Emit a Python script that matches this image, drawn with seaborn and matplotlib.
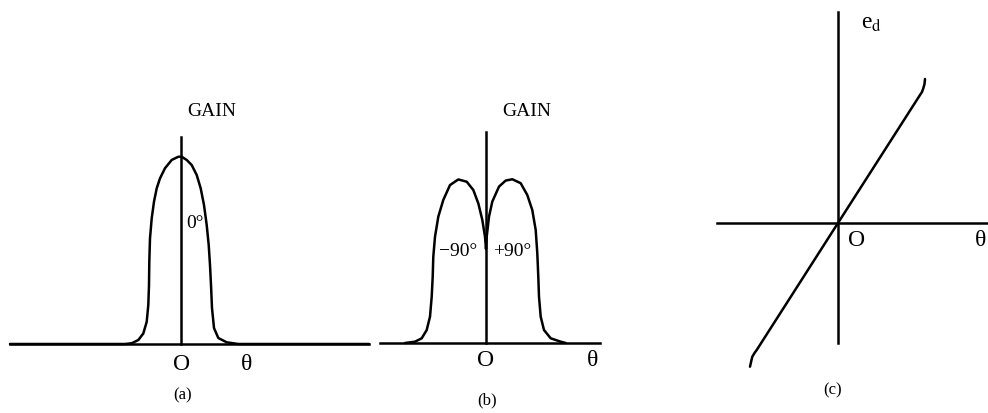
import matplotlib
matplotlib.use("Agg")
import matplotlib.pyplot as plt
import seaborn as sns

# (a) single-lobe gain pattern: theta offset vs normalised gain
theta_a = [-171, -56, -49.3, -42.7, -37.7, -34.3, -32.7, -32, -31.7, -31, -29.3,
           -27, -24.3, -21, -16, -9.3, -2.7, 0.7, 5.7, 10.7, 15.7, 19.7, 23,
           25.7, 27.7, 29, 30, 31, 33, 37.3, 45.7, 57.3, 188]
gain_a = [0.0, 0.0, 0.004, 0.021, 0.056, 0.118, 0.207, 0.314, 0.438, 0.562, 0.668,
          0.757, 0.828, 0.881, 0.935, 0.979, 0.996, 0.996, 0.979, 0.952, 0.899,
          0.828, 0.739, 0.633, 0.527, 0.420, 0.314, 0.191, 0.085, 0.032, 0.009,
          0.0, 0.0]

# (b) two-lobe gain pattern with a null at 0
theta_b = [-81, -71, -64.3, -59.3, -56, -54.3, -53.3, -52.7, -51, -47.7, -42.7,
           -36, -27.7, -19.3, -12.7, -7.7, -3.7, -1, 0,
           0.7, 3, 6.3, 13, 19.7, 26.3, 34.7, 41.3, 46.3, 49.7, 51.3, 52.3, 53,
           54.7, 58, 64.7, 74.7, 79.7]
gain_b = [0.0, 0.007, 0.025, 0.069, 0.140, 0.246, 0.352, 0.459, 0.565, 0.672,
          0.761, 0.840, 0.870, 0.858, 0.814, 0.743, 0.655, 0.565, 0.50,
          0.565, 0.672, 0.752, 0.832, 0.864, 0.871, 0.850, 0.787, 0.707, 0.601,
          0.477, 0.352, 0.246, 0.140, 0.069, 0.025, 0.007, 0.0]

# (c) discriminator output e_d vs theta
theta_c = [-88, -86.5, -85.7, -83.5, -81.3, 0, 82, 84, 85.3, 86.5, 87]
ed_c = [-143.7, -137, -133.7, -130, -127, 0, 128, 131, 134.7, 139, 144]

W, H = 988, 413
LW = 1.8

sns.set_theme(style="white")
plt.rcParams["font.family"] = ["Liberation Serif", "DejaVu Serif"]
plt.rcParams["mathtext.fontset"] = "stix"
plt.rcParams["text.color"] = "black"

fig = plt.figure(figsize=(W / 100, H / 100), dpi=100)


def panel(cx, cy, sx, sy, xb, yb):
    # axes over the whole figure; (cx, cy) is the origin in pixels from top-left
    ax = fig.add_axes([0, 0, 1, 1])
    ax.patch.set_visible(False)
    ax.set_xlim(-cx / sx, (W - cx) / sx)
    ax.set_ylim(-(H - cy) / sy, cy / sy)
    for s in ["top", "right"]:
        ax.spines[s].set_visible(False)
    ax.spines["bottom"].set_position(("data", 0))
    ax.spines["left"].set_position(("data", 0))
    ax.spines["bottom"].set_bounds(*xb)
    ax.spines["left"].set_bounds(*yb)
    for s in ["bottom", "left"]:
        ax.spines[s].set_color("black")
        ax.spines[s].set_linewidth(LW)
    ax.set_xticks([])
    ax.set_yticks([])
    ax.set_xlabel("")
    ax.set_ylabel("")

    def px(x, y):
        return (x - cx) / sx, (cy - y) / sy
    return ax, px


# Panel (a)
ax, px = panel(181, 344, 1, 188, (-171, 188), (0, 1.10))
sns.lineplot(x=theta_a, y=gain_a, sort=False, estimator=None, color="black",
             lw=LW, ax=ax)
ax.text(*px(212, 112), "GAIN", ha="center", va="center", fontsize=14)
ax.text(*px(186, 223), "0°", ha="left", va="center", fontsize=14)
ax.text(*px(182, 365), "O", ha="center", va="center", fontsize=17)
ax.text(*px(247, 365), "θ", ha="center", va="center", fontsize=17)
ax.text(*px(183, 395), "(a)", ha="center", va="center", fontsize=12)

# Panel (b)
ax, px = panel(486, 343, 1, 188, (-106, 114), (0, 1.122))
sns.lineplot(x=theta_b, y=gain_b, sort=False, estimator=None, color="black",
             lw=LW, ax=ax)
ax.text(*px(527, 111), "GAIN", ha="center", va="center", fontsize=14)
ax.text(*px(458, 252), "−90°", ha="center", va="center", fontsize=14)
ax.text(*px(512, 252), "+90°", ha="center", va="center", fontsize=14)
ax.text(*px(486, 360), "O", ha="center", va="center", fontsize=17)
ax.text(*px(593, 360), "θ", ha="center", va="center", fontsize=17)
ax.text(*px(487, 400), "(b)", ha="center", va="center", fontsize=12)

# Panel (c)
ax, px = panel(838, 223, 1, 1, (-121, 149), (-120, 211))
sns.lineplot(x=theta_c, y=ed_c, sort=False, estimator=None, color="black",
             lw=LW, ax=ax)
ax.text(*px(872, 24), r"e$_\mathrm{d}$", ha="center", va="center", fontsize=17)
ax.text(*px(857, 240), "O", ha="center", va="center", fontsize=17)
ax.text(*px(981, 240), "θ", ha="center", va="center", fontsize=17)
ax.text(*px(833, 390), "(c)", ha="center", va="center", fontsize=12)

fig.savefig("out.png", dpi=100)
